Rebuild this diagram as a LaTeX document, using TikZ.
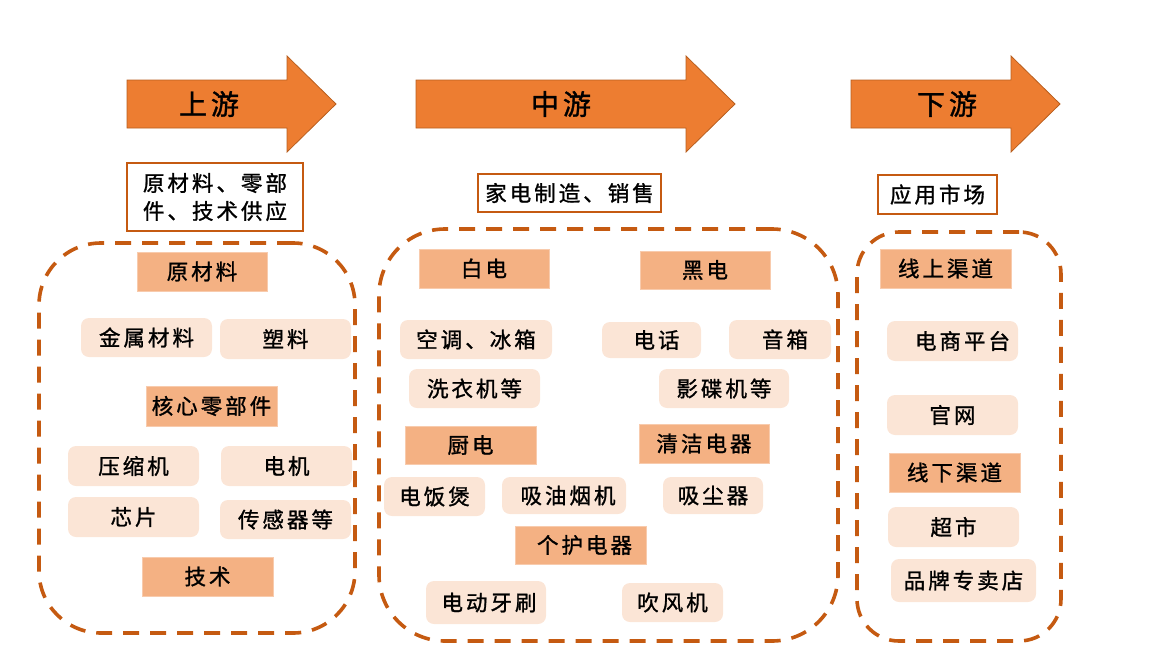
\documentclass[tikz,border=0pt]{standalone}
\usepackage{fontspec}
\setmainfont{Noto Sans CJK SC}[LetterSpace=14, FakeBold=1.2]
\newfontfamily\bigcjk{Noto Sans CJK SC}[LetterSpace=14, FakeBold=1.2]
\definecolor{arrowfill}{HTML}{ED7D31}
\definecolor{arrowline}{HTML}{B85E1E}
\definecolor{dashcol}{HTML}{C55A11}
\definecolor{hdrfill}{HTML}{F4B183}
\definecolor{hdrline}{HTML}{F8CBAD}
\definecolor{subfill}{HTML}{FBE5D6}
\tikzset{
  bigarrow/.style={fill=arrowfill, draw=arrowline, line width=0.8pt},
  arrowtext/.style={font=\bigcjk\fontsize{28}{30}\selectfont, inner sep=0pt},
  labelbox/.style={draw=dashcol, fill=white, line width=1.2pt, inner sep=0pt, font=\fontsize{21.5}{28}\selectfont, align=left},
  region/.style={draw=dashcol, line width=3.6pt, dash pattern=on 16pt off 11pt, inner sep=0pt},
  hdrbox/.style={fill=hdrfill, draw=hdrline, line width=1pt, inner sep=0pt, font=\fontsize{21.5}{24}\selectfont},
  subbox/.style={fill=subfill, rounded corners=8pt, inner sep=0pt, font=\fontsize{21.5}{24}\selectfont},
}
\newcommand\bx[7]{\node[#2, minimum width={(#5-#3)*1pt}, minimum height={(#6-#4)*1pt}] (#1) at ({(#3+#5)/2},{(#4+#6)/2}) {#7};}
\begin{document}
\begin{tikzpicture}[x=1pt,y=-1pt]
\useasboundingbox (0,0) rectangle (1152,659);
% big arrows
\draw[bigarrow] (127,80) -- (287,80) -- (287,56) -- (336,104) -- (287,152) -- (287,128) -- (127,128) -- cycle;
\node[arrowtext] (up) at (209,104) {上游};
\draw[bigarrow] (416,80) -- (686,80) -- (686,56) -- (735,104) -- (686,152) -- (686,128) -- (416,128) -- cycle;
\node[arrowtext] (mid) at (561,104) {中游};
\draw[bigarrow] (851,80) -- (1011,80) -- (1011,56) -- (1060,104) -- (1011,152) -- (1011,128) -- (851,128) -- cycle;
\node[arrowtext] (down) at (947,104) {下游};
% label boxes
\bx{lab1}{labelbox}{127}{163}{303}{231}{原材料、零部\\件、技术供应}
\bx{lab2}{labelbox}{478}{174}{661}{212}{家电制造、销售}
\bx{lab3}{labelbox}{878}{175}{997}{214}{应用市场}
% dashed regions
\bx{reg1}{region, rounded corners=62pt}{39}{243}{355}{633}{}
\bx{reg2}{region, rounded corners=66pt}{379}{229}{838}{641}{}
\bx{reg3}{region, rounded corners=42pt}{857}{232}{1061}{641}{}
% region 1
\bx{ycl}{hdrbox}{137}{252}{267}{291}{原材料}
\bx{jsl}{subbox}{81}{318}{212}{357}{金属材料}
\bx{sl}{subbox}{220}{319}{351}{359}{塑料}
\bx{hx}{hdrbox}{146}{386}{277}{426}{核心零部件}
\bx{ysj}{subbox}{68}{446}{199}{486}{压缩机}
\bx{dj}{subbox}{221}{446}{352}{486}{电机}
\bx{xp}{subbox}{68}{497}{199}{537}{芯片}
\bx{cgq}{subbox}{220}{500}{351}{539}{传感器等}
\bx{js}{hdrbox}{142}{557}{273}{596}{技术}
% region 2
\bx{bd}{hdrbox}{419}{249}{549}{288}{白电}
\bx{hd}{hdrbox}{640}{251}{770}{289}{黑电}
\bx{kt}{subbox}{400}{320}{552}{359}{空调、冰箱}
\bx{dh}{subbox}{602}{322}{701}{358}{\hspace{10pt}电话}
\bx{yx}{subbox}{729}{320}{831}{359}{\hspace{10pt}音箱}
\bx{xyj}{subbox}{409}{369}{540}{408}{洗衣机等}
\bx{ydj}{subbox}{659}{369}{789}{408}{影碟机等}
\bx{cd}{hdrbox}{405}{426}{536}{464}{厨电}
\bx{qj}{hdrbox}{639}{424}{769}{463}{清洁电器}
\bx{dfb}{subbox}{384}{477}{485}{516}{电饭煲}
\bx{xyyj}{subbox}{502}{477}{626}{514}{\hspace{8pt}吸油烟机}
\bx{xcq}{subbox}{663}{477}{763}{514}{吸尘器}
\bx{gh}{hdrbox}{515}{526}{646}{564}{\hspace{8pt}个护电器}
\bx{ddys}{subbox}{426}{581}{546}{624}{\hspace{6pt}电动牙刷}
\bx{cfj}{subbox}{622}{583}{723}{622}{吹风机}
% region 3
\bx{xsqd}{hdrbox}{880}{249}{1011}{288}{线上渠道}
\bx{dspt}{subbox}{887}{321}{1018}{361}{\hspace{20pt}电商平台}
\bx{gw}{subbox}{887}{395}{1018}{435}{官网}
\bx{xxqd}{hdrbox}{889}{453}{1020}{492}{线下渠道}
\bx{cs}{subbox}{888}{507}{1019}{547}{超市}
\bx{ppzmd}{subbox}{891}{559}{1036}{602}{品牌专卖店}
\end{tikzpicture}
\end{document}
